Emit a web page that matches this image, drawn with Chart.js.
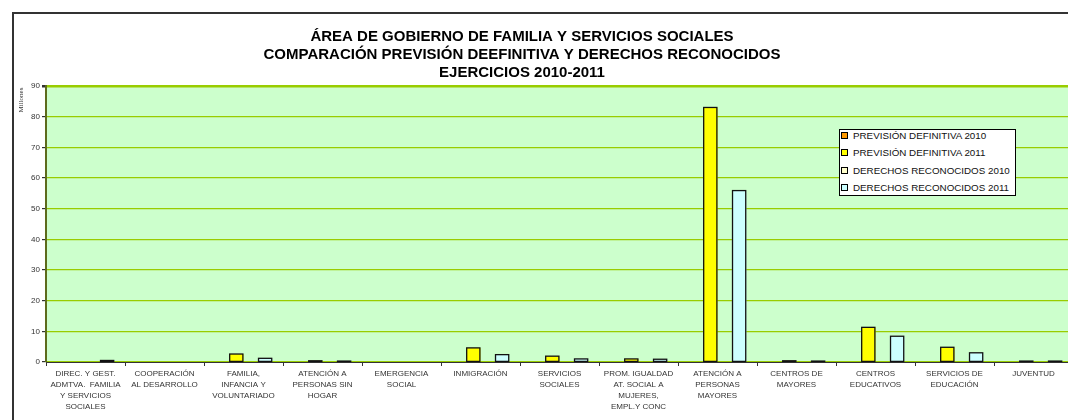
<!DOCTYPE html>
<html>
<head>
<meta charset="utf-8">
<script src="https://cdn.jsdelivr.net/npm/chart.js@4"></script>
<style>
  html, body { margin: 0; padding: 0; background: #fff; overflow: hidden; width: 1068px; height: 420px; }
  #marco { position: absolute; left: 12px; top: 12px; width: 1100px; height: 430px; border: 2px solid #333; box-sizing: border-box; }
  #grafico { position: absolute; left: 0; top: 0; }
  #leyenda {
    position: absolute; left: 839px; top: 129px; width: 177px; height: 67px;
    background: #fff; border: 1px solid #000; box-sizing: border-box;
    font-family: Arial, "Liberation Sans", sans-serif; font-size: 9.8px; color: #111;
  }
  #leyenda div { position: absolute; left: 1px; height: 14px; line-height: 14px; white-space: nowrap; }
  #leyenda span { display: inline-block; width: 5px; height: 5px; border: 1px solid #000; margin-right: 5px; vertical-align: 0px; }
</style>
</head>
<body>
<div id="marco"></div>
<canvas id="grafico" width="1090" height="420"></canvas>
<div id="leyenda"></div>
<script>
// Datos (millones de euros)
const categorias = [
  ["DIREC. Y GEST.", "ADMTVA.  FAMILIA", "Y SERVICIOS", "SOCIALES"],
  ["COOPERACIÓN", "AL DESARROLLO"],
  ["FAMILIA,", "INFANCIA Y", "VOLUNTARIADO"],
  ["ATENCIÓN A", "PERSONAS SIN", "HOGAR"],
  ["EMERGENCIA", "SOCIAL"],
  ["INMIGRACIÓN"],
  ["SERVICIOS", "SOCIALES"],
  ["PROM. IGUALDAD", "AT. SOCIAL A", "MUJERES,", "EMPL.Y CONC"],
  ["ATENCIÓN A", "PERSONAS", "MAYORES"],
  ["CENTROS DE", "MAYORES"],
  ["CENTROS", "EDUCATIVOS"],
  ["SERVICIOS DE", "EDUCACIÓN"],
  ["JUVENTUD"]
];
const prevision2010 = [0, 0, 0, 0, 0, 0, 0, 0, 0, 0, 0, 0, 0];
const prevision2011 = [0, 0, 2.6, 0.4, 0, 4.6, 1.9, 1.0, 83.0, 0.4, 11.3, 4.8, 0.3];
const derechos2010  = [0, 0, 0, 0, 0, 0, 0, 0, 0, 0, 0, 0, 0];
const derechos2011  = [0.5, 0, 1.2, 0.3, 0, 2.4, 1.0, 0.9, 55.9, 0.3, 8.4, 3.0, 0.3];
const nombresSeries = ["PREVISIÓN DEFINITIVA 2010", "PREVISIÓN DEFINITIVA 2011", "DERECHOS RECONOCIDOS 2010", "DERECHOS RECONOCIDOS 2011"];
const coloresSeries = ["#FF9900", "#FFFF00", "#FFFFCC", "#CCFFFF"];
const titulo = [
  "ÁREA DE GOBIERNO DE FAMILIA Y SERVICIOS SOCIALES",
  "COMPARACIÓN PREVISIÓN DEEFINITIVA Y DERECHOS RECONOCIDOS",
  "EJERCICIOS 2010-2011"
];

const valores = [prevision2010, prevision2011, derechos2010, derechos2011];

// Fondo verde, contorno de barras (como Excel, visible aunque la barra sea muy baja) y títulos
const fondoYTextos = {
  id: "fondoYTextos",
  beforeDraw(chart) {
    const { ctx, chartArea: a } = chart;
    ctx.save();
    ctx.fillStyle = "#CCFFCC";
    ctx.fillRect(a.left, a.top, a.right - a.left, a.bottom - a.top);
    ctx.restore();
  },
  afterDatasetsDraw(chart) {
    const { ctx } = chart;
    ctx.save();
    ctx.strokeStyle = "#111";
    ctx.lineWidth = 1.3;
    chart.data.datasets.forEach((ds, i) => {
      chart.getDatasetMeta(i).data.forEach((bar, j) => {
        if (!(ds.data[j] > 0)) return;
        const { x, y, base, width } = bar.getProps(["x", "y", "base", "width"], true);
        ctx.strokeRect(x - width / 2 + 0.6, y, width - 1.2, base - y);
      });
    });
    ctx.restore();
  },
  afterDraw(chart) {
    const { ctx } = chart;
    ctx.save();
    ctx.fillStyle = "#000";
    ctx.font = "bold 15px Arial, 'Liberation Sans', sans-serif";
    ctx.textAlign = "center";
    ctx.textBaseline = "middle";
    [37, 55, 73].forEach((y, i) => ctx.fillText(titulo[i], 522, y));
    // etiqueta del eje
    ctx.translate(21, 100);
    ctx.rotate(-Math.PI / 2);
    ctx.font = "7px 'Liberation Serif', 'DejaVu Serif', serif";
    ctx.fillStyle = "#333";
    ctx.fillText("Millones", 0, 0);
    ctx.restore();
  }
};

const grafico = new Chart(document.getElementById("grafico"), {
  type: "bar",
  data: {
    labels: categorias,
    datasets: nombresSeries.map((n, i) => ({
      label: n,
      data: valores[i],
      backgroundColor: coloresSeries[i],
      borderWidth: 0,
      categoryPercentage: 0.73,
      barPercentage: 1
    }))
  },
  options: {
    responsive: false,
    animation: false,
    layout: { padding: { top: 86, right: 17, left: 0, bottom: 0 } },
    plugins: { legend: { display: false }, tooltip: { enabled: false } },
    scales: {
      x: {
        offset: true,
        grid: { offset: true, drawOnChartArea: false, drawTicks: true, tickLength: 4, tickColor: "#333" },
        border: { color: "#333", width: 1 },
        ticks: {
          maxRotation: 0, autoSkip: false, padding: 2, color: "#333",
          font: { family: "Arial, 'Liberation Sans', sans-serif", size: 8, lineHeight: 1.375 }
        },
        afterFit: s => { s.height = 58; }
      },
      y: {
        min: 0, max: 90,
        grid: {
          color: "#99CC00",
          lineWidth: c => (c.tick && c.tick.value === 90 ? 2.5 : 1.2),
          tickLength: 4, tickColor: "#333"
        },
        border: { color: "#5d6b1c", width: 2 },
        ticks: {
          stepSize: 10, padding: 2, color: "#333",
          font: { family: "Arial, 'Liberation Sans', sans-serif", size: 8 }
        },
        afterFit: s => { s.width = 46; }
      }
    }
  },
  plugins: [fondoYTextos]
});

// Leyenda en HTML
const leyenda = document.getElementById("leyenda");
leyenda.innerHTML = nombresSeries.map((n, i) =>
  `<div style="top:${-1 + i * 17.4}px"><span style="background:${coloresSeries[i]}"></span>${n}</div>`
).join("");
</script>
</body>
</html>
